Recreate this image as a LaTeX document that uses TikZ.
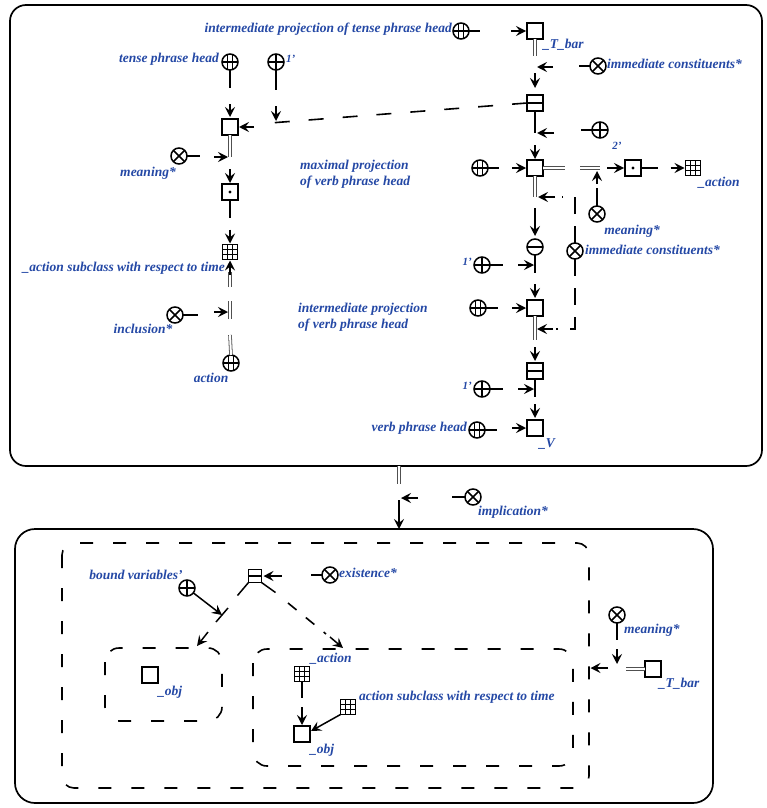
\documentclass[tikz,border=0pt]{standalone}
\usepackage{fontspec}
\setmainfont{Liberation Serif}
\usetikzlibrary{arrows.meta,calc}
\definecolor{lblue}{RGB}{36,72,165}
\definecolor{dblgray}{RGB}{80,80,80}
\newcommand\cglabelfont{\bfseries\itshape\fontsize{13.5pt}{16pt}\selectfont}
\newcommand\cgsmallfont{\bfseries\itshape\fontsize{11pt}{13pt}\selectfont}

\tikzset{
  cg/.style={draw, line width=1.5pt, fill=white, inner sep=0pt, outer sep=0pt},
  sq/.style={cg, rectangle, minimum size=16pt},
  sqdot/.style={sq, path picture={\fill[black] (path picture bounding box.center) circle (1.7pt);}},
  sqmid/.style={sq, path picture={\draw[line width=1.3pt] (path picture bounding box.west) -- (path picture bounding box.east);}},
  sqgrid/.style={sq, minimum size=15pt, line width=1.6pt, path picture={
      \foreach \f in {0.34,0.67}{
        \draw[line width=1.1pt] ($(path picture bounding box.north west)!\f!(path picture bounding box.north east)$) -- ($(path picture bounding box.south west)!\f!(path picture bounding box.south east)$);
        \draw[line width=1.1pt] ($(path picture bounding box.north west)!\f!(path picture bounding box.south west)$) -- ($(path picture bounding box.north east)!\f!(path picture bounding box.south east)$);
      }}},
  crc/.style={cg, circle, minimum size=16pt},
  ox/.style={crc, path picture={\draw[line width=1.5pt] (path picture bounding box.north west) -- (path picture bounding box.south east) (path picture bounding box.north east) -- (path picture bounding box.south west);}},
  op/.style={crc, path picture={\draw[line width=1.5pt] (path picture bounding box.north) -- (path picture bounding box.south) (path picture bounding box.west) -- (path picture bounding box.east);}},
  om/.style={crc, path picture={\draw[line width=1.5pt] (path picture bounding box.west) -- (path picture bounding box.east);}},
  og/.style={crc, path picture={
      \draw[line width=1.2pt] (path picture bounding box.west) -- (path picture bounding box.east);
      \draw[line width=1.1pt] ([xshift=-2.6pt]path picture bounding box.north) -- ([xshift=-2.6pt]path picture bounding box.south)
                              ([xshift=2.6pt]path picture bounding box.north) -- ([xshift=2.6pt]path picture bounding box.south);}},
  lbl/.style={text=lblue, font=\cglabelfont, inner sep=0pt},
  sml/.style={text=lblue, font=\cgsmallfont, inner sep=0pt},
  ln/.style={line width=1.5pt},
  tip/.style={line width=1.5pt, -{Stealth[length=10pt,width=10pt,inset=3.8pt]}},
  dbl/.style={draw=dblgray, double=white, line width=0.8pt, double distance=2pt},
  dsh/.style={line width=1.6pt, dash pattern=on 15pt off 19pt},
  vdsh/.style={line width=1.6pt, dash pattern=on 17pt off 12pt},
  ctx/.style={line width=1.7pt, rounded corners=16pt},
  dctx/.style={line width=1.6pt, dash pattern=on 13pt off 20pt, rounded corners=12pt},
}

\begin{document}
\begin{tikzpicture}[x=1pt,y=-1pt]
\useasboundingbox (0,0) rectangle (766,808);

% ---------- upper context ----------
\draw[ctx] (10,5) rectangle (762,466);

% left column
\node[og] (tph) at (230,62) {};
\node[lbl, anchor=east] (ltph) at (219,59) {tense phrase head};
\node[op] (p1a) at (276,62) {};
\node[sml, anchor=west] (lp1a) at (286,59) {1'};
\node[sq] (s1) at (230,127) {};
\node[ox] (m1) at (179,156) {};
\node[lbl] (lm1) at (148,173) {meaning*};
\node[sqdot] (s2) at (230,192) {};
\node[sqgrid] (g1) at (230,252) {};
\node[lbl, anchor=east] (lg1) at (225,268) {\_action subclass with respect to time};
\node[ox] (inc) at (175,315) {};
\node[lbl] (linc) at (143,329) {inclusion*};
\node[og] (act) at (231,363) {};
\node[lbl] (lact) at (211,378) {action};

\coordinate (dl) at (270,123);
\coordinate (j1) at (230,157);
\coordinate (j2) at (230,312);

\draw[ln] (tph.south) -- ++(0,18);
\draw[tip] ($(s1.north)+(0,-15)$) -- ($(s1.north)+(0,-2)$);
\draw[ln] (p1a.south) -- ++(0,20);
\draw[tip] (276,106) -- (276,121);
\draw[tip] ($(s1.east)+(16,0)$) -- ($(s1.east)+(1,0)$);
\draw[dbl] (s1.south) -- (j1);
\draw[ln] (m1.east) -- ++(13,0);
\draw[tip] ($(j1)+(-16,0)$) -- ($(j1)+(-2,0)$);
\draw[tip] ($(s2.north)+(0,-15)$) -- ($(s2.north)+(0,-1)$);
\draw[ln] (s2.south) -- ++(0,18);
\draw[tip] ($(g1.north)+(0,-15)$) -- ($(g1.north)+(0,-1)$);
\draw[dbl] (act.north) -- (230,335);
\draw[dbl] (230,319) -- (230,301);
\draw[ln] (inc.east) -- ++(15,0);
\draw[tip] ($(j2)+(-16,0)$) -- ($(j2)+(-2,0)$);
\draw[dbl] (230,287) -- (230,272);
\draw[tip] (230,275) -- ($(g1.south)+(0,1)$);

% right column
\node[lbl, anchor=east] (litp) at (452,29) {intermediate projection of tense phrase head};
\node[og] (g2) at (461,31) {};
\node[sq] (tbar) at (535,31) {};
\node[lbl, anchor=west] (ltbar) at (543,45) {\_T\_bar};
\node[ox] (ic1) at (598,66) {};
\node[lbl, anchor=west] (lic1) at (607,64) {immediate constituents*};
\node[sqmid] (tb) at (535,103) {};
\node[op] (p2) at (600,130) {};
\node[sml] (lp2) at (617,146) {2'};
\node[sq] (s3) at (535,168) {};
\node[og] (g3) at (480,168) {};
\node[lbl, anchor=west, align=left] (lmax) at (300,174) {maximal projection\\of verb phrase head};
\node[sqdot] (s4) at (633,168) {};
\node[sqgrid] (g4) at (693,168) {};
\node[lbl] (lg4) at (719,183) {\_action};
\node[ox] (m2) at (597,214) {};
\node[lbl] (lm2) at (632,231) {meaning*};
\node[ox] (ic2) at (575,251) {};
\node[lbl, anchor=west] (lic2) at (585,250) {immediate constituents*};
\node[om] (om1) at (535,247) {};
\node[op] (p1b) at (482,265) {};
\node[sml, anchor=east] (lp1b) at (472,262) {1'};
\node[sq] (s5) at (535,308) {};
\node[og] (g5) at (478,308) {};
\node[lbl, anchor=west, align=left] (lint) at (298,317) {intermediate projection\\of verb phrase head};
\node[sqmid] (tb2) at (535,371) {};
\node[op] (p1c) at (482,389) {};
\node[sml, anchor=east] (lp1c) at (472,386) {1'};
\node[sq] (sv) at (535,428) {};
\node[lbl] (lsv) at (547,444) {\_V};
\node[og] (g6) at (477,430) {};
\node[lbl, anchor=east] (lg6) at (467,428) {verb phrase head};

\coordinate (c1) at (575,197);
\coordinate (c2) at (575,329);
\coordinate (j3) at (597,168);

\draw[ln] (g2.east) -- ++(11,0);
\draw[tip] ($(tbar.west)+(-16,0)$) -- ($(tbar.west)+(-1,0)$);
\draw[dbl] (tbar.south) -- (535,56);
\draw[ln] (ic1.west) -- ++(-11,0);
\draw[tip] (553,67) -- (537,67);
\draw[tip] (535,73) -- ($(tb.north)+(0,-7)$);
\draw[dsh] (tb.west) -- (dl);
\draw[ln] (tb.south) -- (535,133);
\draw[ln] (p2.west) -- ++(-11,0);
\draw[tip] (554,133) -- (537,133);
\draw[tip] ($(s3.north)+(0,-15)$) -- ($(s3.north)+(0,-1)$);
\draw[ln] (g3.east) -- ++(11,0);
\draw[tip] ($(s3.west)+(-15,0)$) -- ($(s3.west)+(-1,0)$);
\draw[dbl] (s3.east) -- (565,168);
\draw[dbl] (580,168) -- (600,168);
\draw[tip] ($(s4.west)+(-18,0)$) -- ($(s4.west)+(-1,0)$);
\draw[ln] (s4.east) -- ++(17,0);
\draw[tip] ($(g4.west)+(-15,0)$) -- ($(g4.west)+(-1,0)$);
\draw[ln] (m2.north) -- ++(0,-18);
\draw[tip] ($(j3)+(0,16)$) -- ($(j3)+(0,3)$);
\draw[dbl] (s3.south) -- (535,197);
\draw[vdsh] (ic2.north) -- (c1) -- (562,197);
\draw[tip] (555,197) -- (538,197);
\draw[tip] (535,208) -- ($(om1.north)+(0,-3)$);
\draw[ln] (om1.south) -- (535,273);
\draw[ln] (p1b.east) -- ++(13,0);
\draw[tip] (518,265) -- (534,265);
\draw[tip] ($(s5.north)+(0,-16)$) -- ($(s5.north)+(0,-2)$);
\draw[ln] (g5.east) -- ++(12,0);
\draw[tip] ($(s5.west)+(-15,0)$) -- ($(s5.west)+(-1,0)$);
\draw[dbl] (s5.south) -- (535,340);
\draw[vdsh] (ic2.south) -- (c2) -- (556,329);
\draw[tip] (553,329) -- (537,329);
\draw[tip] ($(tb2.north)+(0,-16)$) -- ($(tb2.north)+(0,-2)$);
\draw[ln] (tb2.south) -- (535,397);
\draw[ln] (p1c.east) -- ++(13,0);
\draw[tip] (518,389) -- (534,389);
\draw[tip] ($(sv.north)+(0,-16)$) -- ($(sv.north)+(0,-2)$);
\draw[ln] (g6.east) -- ++(12,0);
\draw[tip] ($(sv.west)+(-15,0)$) -- ($(sv.west)+(-1,0)$);

% ---------- implication between the contexts ----------
\node[ox] (imp) at (473,497) {};
\node[lbl] (limp) at (513,512) {implication*};
\coordinate (ctop) at (399,466);
\coordinate (cbot) at (399,529);
\draw[dbl] (ctop) -- (399,484);
\draw[ln] (imp.west) -- ++(-13,0);
\draw[tip] (418,498) -- (401,498);
\draw[tip] (399,500) -- (cbot);

% ---------- lower context ----------
\draw[ctx, rounded corners=20pt] (15,529) rectangle (713,803);
\draw[dctx] (62,543) rectangle (589,788);
\draw[dctx, rounded corners=14pt] (105,648) rectangle (222,721);
\draw[dctx, rounded corners=14pt] (253,649) rectangle (573,766);

\node[sqmid, minimum size=13pt] (tb3) at (255,576) {};
\node[op] (bv) at (187,588) {};
\node[lbl] (lbv) at (136,575) {bound variables'};
\node[ox] (ex) at (330,575) {};
\node[lbl, anchor=west] (lex) at (339,573) {existence*};
\node[sq] (o1) at (150,675) {};
\node[lbl] (lo1) at (170,692) {\_obj};
\node[sqgrid] (ga) at (302,674) {};
\node[lbl] (lga) at (331,659) {\_action};
\node[sq] (o2) at (302,734) {};
\node[lbl] (lo2) at (322,750) {\_obj};
\node[sqgrid] (gs) at (348,707) {};
\node[lbl, anchor=west] (lgs) at (359,697) {action subclass with respect to time};
\node[ox] (m3) at (617,615) {};
\node[lbl, anchor=west] (lm3) at (624,630) {meaning*};
\node[sq] (tbar2) at (653,669) {};
\node[lbl] (ltbar2) at (679,684) {\_T\_bar};

\coordinate (bar1) at (222,615);
\coordinate (lft) at (197,646);
\coordinate (rgt) at (343,648);

\draw[ln] (tb3.south west) -- ++(-11,13);
\draw[ln] ($(bar1)+(6,-7)$) -- ($(bar1)+(-6,7)$);
\draw[tip] (208,632) -- (lft);
\draw[ln] (tb3.south east) -- ++(14,10);
\draw[line width=1.6pt, dash pattern=on 11pt off 12pt] (288,603) -- (326,634);
\draw[tip] (330,637) -- (rgt);
\draw[tip] (bv) -- (bar1);
\draw[ln] (ex.west) -- ++(-11,0);
\draw[tip] ($(tb3.east)+(20,0)$) -- ($(tb3.east)+(2,0)$);
\draw[ln] (ga.south) -- ++(0,16);
\draw[tip] (302,707) -- ($(o2.north)+(0,-1)$);
\draw[tip] (gs.south west) -- ($(o2.east)+(1,-3)$);
\draw[ln] (m3.south) -- ++(0,17);
\draw[tip] (617,649) -- (617,664);
\draw[dbl] (tbar2.west) -- (626,669);
\draw[tip] (608,668) -- (590.5,668);
\end{tikzpicture}
\end{document}
